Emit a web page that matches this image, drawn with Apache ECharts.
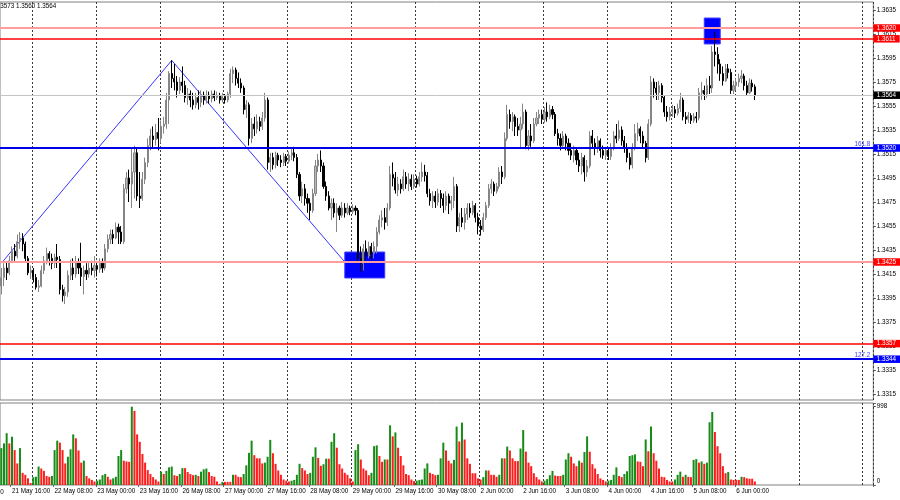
<!DOCTYPE html>
<html><head><meta charset="utf-8">
<script src="https://cdn.jsdelivr.net/npm/echarts@6/dist/echarts.min.js"></script>
<style>html,body{margin:0;padding:0;background:#fff}#c{width:900px;height:500px}</style>
</head><body><div id="c"></div>
<script>
// ---------- data ----------
const tradingDays = ['21 May','22 May','23 May','26 May','27 May','28 May','29 May','30 May','2 Jun','3 Jun','4 Jun','5 Jun','6 Jun','9 Jun','10 Jun'];
const firstHour = 12;          // first bar: 21 May 12:00 (H1 bars)
const slotCount = 328;         // bars + empty space to the right (chart shift)
const headerText = '1.3573 1.3560 1.3564';
const firstOpen = 1.3405;

const closes = [
1.3412,1.3420,1.3416,1.3426,1.3434,1.3430,1.3442,1.3445,1.3440,1.3428,1.3416,1.3418,
1.3412,1.3404,1.3405,1.3418,1.3426,1.3432,1.3428,1.3424,1.3429,1.3427,1.3402,1.3397,1.3400,1.3414,1.3420,1.3415,1.3425,1.3420,1.3413,1.3418,1.3415,1.3420,1.3418,1.3422,
1.3419,1.3424,1.3420,1.3436,1.3444,1.3448,1.3445,1.3454,1.3450,1.3442,1.3486,1.3495,1.3490,1.3500,1.3516,1.3480,1.3478,1.3494,1.3508,1.3522,1.3530,1.3527,1.3533,1.3528,
1.3538,1.3540,1.3560,1.3582,1.3578,1.3575,1.3568,1.3575,1.3572,1.3562,1.3565,1.3560,1.3556,1.3562,1.3558,1.3564,1.3560,1.3564,1.3561,1.3565,1.3562,1.3564,1.3560,1.3563,
1.3560,1.3565,1.3582,1.3585,1.3578,1.3574,1.3570,1.3552,1.3556,1.3528,1.3540,1.3536,1.3542,1.3538,1.3545,1.3560,1.3508,1.3512,1.3506,1.3514,1.3510,1.3508,1.3513,1.3509,
1.3514,1.3516,1.3512,1.3498,1.3480,1.3486,1.3478,1.3474,1.3468,1.3482,1.3505,1.3510,1.3505,1.3488,1.3480,1.3470,1.3474,1.3466,1.3470,1.3464,1.3470,1.3466,1.3470,1.3467,
1.3470,1.3468,1.3428,1.3424,1.3436,1.3430,1.3438,1.3432,1.3438,1.3450,1.3460,1.3462,1.3458,1.3470,1.3498,1.3495,1.3485,1.3490,1.3486,1.3496,1.3490,1.3494,1.3488,1.3494,
1.3490,1.3496,1.3500,1.3497,1.3482,1.3476,1.3480,1.3475,1.3482,1.3478,1.3472,1.3480,1.3474,1.3476,1.3488,1.3455,1.3462,1.3458,1.3465,1.3470,1.3466,1.3472,1.3462,1.3455,
1.3452,1.3462,1.3472,1.3486,1.3490,1.3484,1.3488,1.3500,1.3496,1.3528,1.3548,1.3542,1.3546,1.3538,1.3535,1.3540,1.3550,1.3522,1.3530,1.3526,1.3540,1.3545,1.3548,1.3544,
1.3550,1.3546,1.3552,1.3548,1.3532,1.3528,1.3522,1.3530,1.3524,1.3518,1.3514,1.3518,1.3510,1.3505,1.3512,1.3500,1.3505,1.3530,1.3524,1.3520,1.3526,1.3518,1.3514,1.3518,
1.3513,1.3520,1.3530,1.3528,1.3535,1.3526,1.3520,1.3512,1.3506,1.3520,1.3532,1.3536,1.3530,1.3524,1.3512,1.3540,1.3575,1.3570,1.3566,1.3572,1.3562,1.3550,1.3546,1.3550,
1.3552,1.3549,1.3553,1.3560,1.3546,1.3544,1.3547,1.3543,1.3546,1.3545,1.3566,1.3568,1.3565,1.3572,1.3570,1.3600,1.3598,1.3590,1.3582,1.3576,1.3586,1.3583,1.3568,1.3572,
1.3575,1.3578,1.3580,1.3572,1.3566,1.3574,1.3571,1.3564];

const highs = [
1.3420,1.3424,1.3425,1.3430,1.3438,1.3440,1.3448,1.3450,1.3449,1.3442,1.3430,1.3422,
1.3420,1.3415,1.3410,1.3422,1.3430,1.3437,1.3434,1.3432,1.3432,1.3440,1.3430,1.3406,1.3404,1.3418,1.3427,1.3428,1.3430,1.3428,1.3441,1.3422,1.3424,1.3425,1.3426,1.3430,
1.3425,1.3428,1.3428,1.3440,1.3448,1.3452,1.3452,1.3458,1.3457,1.3455,1.3490,1.3500,1.3502,1.3520,1.3522,1.3520,1.3500,1.3500,1.3512,1.3528,1.3536,1.3538,1.3540,1.3545,
1.3543,1.3546,1.3566,1.3584,1.3593,1.3590,1.3580,1.3579,1.3588,1.3576,1.3570,1.3568,1.3566,1.3566,1.3568,1.3568,1.3567,1.3568,1.3567,1.3568,1.3568,1.3567,1.3566,1.3566,
1.3565,1.3567,1.3586,1.3588,1.3587,1.3583,1.3578,1.3572,1.3560,1.3558,1.3545,1.3546,1.3548,1.3546,1.3550,1.3566,1.3562,1.3516,1.3516,1.3517,1.3516,1.3514,1.3516,1.3515,
1.3517,1.3519,1.3521,1.3515,1.3500,1.3492,1.3490,1.3482,1.3478,1.3486,1.3510,1.3515,1.3518,1.3508,1.3492,1.3484,1.3478,1.3478,1.3474,1.3472,1.3475,1.3474,1.3474,1.3472,
1.3473,1.3472,1.3470,1.3438,1.3440,1.3443,1.3442,1.3441,1.3442,1.3454,1.3464,1.3468,1.3470,1.3474,1.3505,1.3508,1.3500,1.3496,1.3494,1.3502,1.3500,1.3499,1.3498,1.3498,
1.3497,1.3500,1.3508,1.3506,1.3500,1.3486,1.3484,1.3484,1.3486,1.3485,1.3482,1.3484,1.3482,1.3480,1.3496,1.3490,1.3466,1.3470,1.3470,1.3474,1.3474,1.3476,1.3474,1.3466,
1.3460,1.3466,1.3475,1.3490,1.3494,1.3492,1.3491,1.3504,1.3505,1.3533,1.3556,1.3552,1.3550,1.3548,1.3545,1.3546,1.3557,1.3552,1.3535,1.3540,1.3545,1.3550,1.3552,1.3552,
1.3554,1.3558,1.3556,1.3555,1.3550,1.3536,1.3532,1.3534,1.3532,1.3528,1.3524,1.3522,1.3520,1.3516,1.3516,1.3514,1.3510,1.3534,1.3535,1.3528,1.3530,1.3528,1.3522,1.3521,
1.3520,1.3524,1.3534,1.3540,1.3543,1.3538,1.3530,1.3524,1.3516,1.3524,1.3540,1.3541,1.3538,1.3534,1.3526,1.3544,1.3580,1.3578,1.3575,1.3576,1.3574,1.3564,1.3555,1.3554,
1.3556,1.3555,1.3557,1.3566,1.3562,1.3550,1.3550,1.3549,1.3549,1.3550,1.3570,1.3575,1.3572,1.3578,1.3580,1.3605,1.3617,1.3604,1.3594,1.3588,1.3590,1.3590,1.3586,1.3576,
1.3578,1.3582,1.3585,1.3582,1.3576,1.3578,1.3577,1.3573];

const lows = [
1.3398,1.3405,1.3410,1.3414,1.3424,1.3426,1.3428,1.3436,1.3434,1.3425,1.3414,1.3411,
1.3408,1.3402,1.3400,1.3404,1.3415,1.3423,1.3422,1.3419,1.3420,1.3420,1.3398,1.3392,1.3390,1.3396,1.3410,1.3410,1.3412,1.3415,1.3405,1.3398,1.3410,1.3412,1.3414,1.3412,
1.3413,1.3416,1.3416,1.3418,1.3433,1.3440,1.3440,1.3444,1.3440,1.3440,1.3440,1.3482,1.3475,1.3470,1.3478,1.3476,1.3470,1.3476,1.3490,1.3504,1.3518,1.3520,1.3522,1.3518,
1.3524,1.3532,1.3536,1.3540,1.3570,1.3568,1.3562,1.3565,1.3566,1.3558,1.3556,1.3554,1.3552,1.3553,1.3552,1.3554,1.3556,1.3557,1.3557,1.3558,1.3559,1.3560,1.3557,1.3558,
1.3557,1.3558,1.3562,1.3574,1.3572,1.3570,1.3566,1.3548,1.3545,1.3522,1.3524,1.3530,1.3532,1.3534,1.3535,1.3542,1.3502,1.3500,1.3502,1.3503,1.3505,1.3504,1.3505,1.3505,
1.3507,1.3510,1.3509,1.3495,1.3476,1.3474,1.3472,1.3466,1.3460,1.3466,1.3480,1.3500,1.3500,1.3486,1.3476,1.3468,1.3460,1.3462,1.3450,1.3460,1.3462,1.3462,1.3464,1.3464,
1.3465,1.3464,1.3424,1.3417,1.3418,1.3426,1.3428,1.3427,1.3428,1.3432,1.3448,1.3454,1.3452,1.3455,1.3468,1.3488,1.3482,1.3480,1.3482,1.3484,1.3486,1.3484,1.3485,1.3486,
1.3487,1.3488,1.3492,1.3492,1.3479,1.3472,1.3470,1.3470,1.3472,1.3470,1.3466,1.3468,1.3465,1.3468,1.3470,1.3450,1.3450,1.3454,1.3452,1.3460,1.3462,1.3464,1.3458,1.3448,
1.3447,1.3450,1.3460,1.3470,1.3482,1.3480,1.3482,1.3486,1.3490,1.3494,1.3526,1.3536,1.3534,1.3530,1.3530,1.3520,1.3536,1.3519,1.3518,1.3521,1.3524,1.3538,1.3540,1.3540,
1.3541,1.3542,1.3544,1.3544,1.3530,1.3522,1.3518,1.3520,1.3518,1.3514,1.3510,1.3508,1.3506,1.3500,1.3498,1.3492,1.3496,1.3503,1.3520,1.3514,1.3516,1.3512,1.3511,1.3510,
1.3510,1.3510,1.3518,1.3524,1.3526,1.3522,1.3516,1.3508,1.3502,1.3503,1.3518,1.3526,1.3524,1.3520,1.3508,1.3510,1.3538,1.3562,1.3560,1.3560,1.3558,1.3546,1.3542,1.3543,
1.3546,1.3545,1.3547,1.3550,1.3543,1.3540,1.3541,1.3540,1.3541,1.3541,1.3543,1.3560,1.3560,1.3562,1.3565,1.3566,1.3588,1.3582,1.3576,1.3572,1.3575,1.3578,1.3565,1.3565,
1.3568,1.3571,1.3574,1.3568,1.3564,1.3565,1.3567,1.3560];

const volumes = [
470,530,660,530,615,445,275,470,155,130,85,25,
100,105,235,210,180,115,105,115,445,565,540,445,275,360,455,645,595,440,285,310,115,85,65,45,
55,70,125,140,105,70,85,105,370,445,310,300,295,998,945,645,550,395,285,190,140,100,70,45,
170,140,180,225,235,125,115,140,215,215,165,140,125,130,115,170,200,210,165,115,105,45,15,40,
40,40,40,130,130,105,100,140,250,410,565,380,340,340,275,285,360,575,405,270,185,130,70,55,
45,55,65,130,270,215,185,140,155,360,480,345,245,265,335,335,550,660,475,265,210,155,130,85,
45,445,520,325,210,185,125,155,495,505,370,295,325,325,760,620,670,475,370,250,140,125,70,50,
55,65,70,210,275,155,140,125,130,340,540,440,310,275,320,745,555,795,580,340,270,150,150,85,
70,100,185,185,130,130,105,130,340,340,490,440,340,305,305,465,700,425,285,240,150,100,70,45,
55,75,125,180,120,115,115,130,325,405,360,275,240,310,285,420,620,425,265,210,140,85,65,45,
55,65,130,225,115,100,140,175,370,380,390,300,295,240,580,430,745,405,310,210,105,100,65,45,
45,70,130,170,105,130,105,100,320,330,285,300,270,285,800,930,675,495,405,240,150,165,70,65,
65,65,105,100,85,80,80,45];

// price axis tick range
const priceMin = 1.3315, priceMax = 1.3635, priceStep = 0.0020;
const volumeMax = 998;

// horizontal levels: value, kind
const levelValues = [1.3620, 1.3611, 1.3564, 1.3520, 1.3425, 1.3357, 1.3344];
const levelKinds  = ['zoneRed', 'red', 'current', 'fib', 'zoneRed', 'red', 'fib'];
const fibTexts = ['', '', '', '161.8', '', '', '127.2'];

// zigzag (bar index, price)
const zigzagIdx = [0, 64, 129];
const zigzagPrice = [1.3424, 1.3593, 1.3425];

// blue boxes: [barFrom, barTo, priceTop, priceBottom]
const boxFrom = [129, 264];
const boxTo = [144, 270];
const boxTop = [1.34333, 1.36283];
const boxBottom = [1.34117, 1.36067];

// ---------- build ----------
const categories = [];
tradingDays.forEach((d, k) => {
  for (let h = (k === 0 ? firstHour : 0); h < 24; h++) categories.push(d + ' ' + String(h).padStart(2, '0') + ':00');
});
categories.length = slotCount;

const candleData = closes.map((c, i) => {
  const o = i === 0 ? firstOpen : closes[i - 1];
  return [o, c, Math.min(lows[i], o, c), Math.max(highs[i], o, c)];
});

const GREEN = '#168c16', RED = '#ff1c1c';
const volumeData = volumes.map((v, i) => ({
  value: v,
  itemStyle: { color: (i === 0 || v > volumes[i - 1]) ? GREEN : RED }
}));

const FONT = 'Liberation Sans';
const FS = 6.3;
const levelStyle = {
  zoneRed: { line: '#ff9c9c', width: 2, box: '#ff0000' },
  red:     { line: '#ff0000', width: 1.6, box: '#ff0000' },
  current: { line: '#c4c4c4', width: 1, box: '#000000' },
  fib:     { line: '#0000e6', width: 2, box: '#0000ff' }
};
const markLineData = [];
levelValues.forEach((v, i) => {
  const st = levelStyle[levelKinds[i]];
  markLineData.push({
    yAxis: v,
    lineStyle: { color: st.line, width: st.width, type: 'solid', opacity: 1 },
    label: { show: true, position: 'end', distance: 0, formatter: v.toFixed(4),
      backgroundColor: st.box, color: '#fff', fontSize: FS, fontFamily: FONT,
      padding: [1, 4, 0.5, 3.5] }
  });
  if (fibTexts[i]) {
    markLineData.push({
      yAxis: v,
      lineStyle: { color: st.line, width: st.width, type: 'solid', opacity: 1 },
      label: { show: true, position: 'insideEndTop', distance: [3, 1], formatter: fibTexts[i],
        color: '#3c3cff', fontSize: FS, fontFamily: FONT }
    });
  }
});

const boxes = boxFrom.map((f, i) => [{ xAxis: f, yAxis: boxTop[i] }, { xAxis: boxTo[i], yAxis: boxBottom[i] }]);

const isDayStart = (idx, val) => typeof val === 'string' && val.endsWith(' 00:00');
const isLabel = (idx) => idx >= 4 && idx < closes.length && (idx - 4) % 16 === 0;

const GL = -1.333, GW = 874.667;
const dash = { color: '#3a3a3a', type: [2, 2], width: 1 };

const chart = echarts.init(document.getElementById('c'), null, { renderer: 'canvas' });
chart.setOption({
  animation: false,
  backgroundColor: '#ffffff',
  textStyle: { fontFamily: FONT },
  grid: [
    { left: GL, width: GW, top: 2, height: 398, show: true, borderColor: '#808080', borderWidth: 1 },
    { left: GL, width: GW, top: 10, height: 384 },
    { left: GL, width: GW, top: 403, height: 82, show: true, borderColor: '#808080', borderWidth: 1 }
  ],
  xAxis: [
    { gridIndex: 0, type: 'category', data: categories, boundaryGap: true,
      axisLine: { show: false }, axisTick: { show: false }, axisLabel: { show: false },
      splitLine: { show: true, interval: isDayStart, lineStyle: dash } },
    { gridIndex: 1, type: 'category', data: categories, boundaryGap: true, show: false },
    { gridIndex: 2, type: 'category', data: categories, boundaryGap: true,
      axisLine: { show: false },
      axisTick: { show: true, interval: isLabel, length: 2, lineStyle: { color: '#666' } },
      axisLabel: { interval: isLabel, align: 'left', fontSize: FS, color: '#000', margin: 3.5, fontFamily: FONT },
      splitLine: { show: true, interval: isDayStart, lineStyle: dash } }
  ],
  yAxis: [
    { gridIndex: 0, type: 'value', show: false, min: 0, max: 1 },
    { gridIndex: 1, type: 'value', position: 'right', min: priceMin, max: priceMax, interval: priceStep,
      axisLine: { show: false },
      axisTick: { show: true, length: 2.5, lineStyle: { color: '#555' } },
      axisLabel: { fontSize: FS, color: '#000', margin: 3.5, fontFamily: FONT, formatter: v => v.toFixed(4) },
      splitLine: { show: false } },
    { gridIndex: 2, type: 'value', position: 'right', min: 0, max: 1045, interval: volumeMax,
      axisLine: { show: false },
      axisTick: { show: true, length: 2.5, lineStyle: { color: '#555' } },
      axisLabel: { fontSize: FS, color: '#000', margin: 3.5, fontFamily: FONT,
        formatter: v => v === 0 ? '{z|0}' : (v === volumeMax ? String(volumeMax) : ''),
        rich: { z: { fontSize: FS, color: '#000', fontFamily: FONT, padding: [0, 0, 7, 0] } } },
      splitLine: { show: false } }
  ],
  graphic: [
    { type: 'text', x: -5, y: 3, silent: true,
      style: { text: headerText, fill: '#000', font: FS + 'px "' + FONT + '"', verticalAlign: 'top' } },
    { type: 'text', x: -34.5, y: 492, silent: true,
      style: { text: '21 May 00:00', fill: '#000', font: FS + 'px "' + FONT + '"', verticalAlign: 'middle' } }
  ],
  series: [
    { type: 'line', xAxisIndex: 1, yAxisIndex: 1, z: 1, silent: true, symbol: 'none',
      data: zigzagIdx.map((x, i) => [x, zigzagPrice[i]]),
      lineStyle: { color: '#3434ff', width: 1 },
      markArea: { silent: true, itemStyle: { color: '#0000ff', borderColor: '#3a3aff', borderWidth: 1, opacity: 1 }, data: boxes } },
    { type: 'candlestick', xAxisIndex: 1, yAxisIndex: 1, z: 3, silent: true,
      data: candleData, barWidth: 1.6,
      itemStyle: { color: '#b8b8b8', color0: '#000000', borderColor: '#858585', borderColor0: '#000000', borderWidth: 1 },
      markLine: { silent: true, precision: 4, symbol: ['none', 'none'], animation: false, data: markLineData } },
    { type: 'bar', xAxisIndex: 2, yAxisIndex: 2, silent: true, barWidth: 2, data: volumeData }
  ]
});
</script>
</body></html>
